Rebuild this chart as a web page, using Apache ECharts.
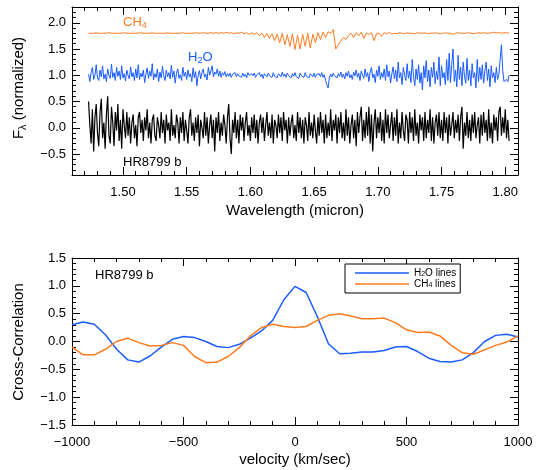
<!DOCTYPE html>
<html><head><meta charset="utf-8">
<script src="https://cdn.jsdelivr.net/npm/echarts@6/dist/echarts.min.js"></script>
<style>html,body{margin:0;padding:0;background:#fff}#c{width:544px;height:470px}</style>
</head><body><div id="c"></div>
<script>
// ---------- DATA ----------
// wavelength sampling grids (micron)
const wlStart = 1.473;
const wavelength = Array.from({length: 331}, (_, i) => +(wlStart + i * 0.001).toFixed(3));
const wavelengthCH4 = Array.from({length: 166}, (_, i) => +(wlStart + i * 0.002).toFixed(3));

// HR8799 b spectrum (normalized)
const fluxHR8799b = [
  0.50,0.05,-0.30,0.35,-0.45,0.20,0.45,-0.10,-0.35,0.30,
  0.55,-0.20,0.10,-0.40,0.25,0.60,-0.15,-0.30,0.40,0.10,
  -0.35,0.30,-0.05,0.45,-0.25,0.15,-0.40,0.35,0.05,-0.20,
  0.30,-0.15,0.20,-0.30,0.10,0.25,-0.20,0.05,-0.35,0.20,
  0.30,-0.10,0.15,-0.25,0.20,-0.05,0.35,-0.20,0.10,-0.30,
  0.15,0.25,-0.15,-0.25,0.20,0.05,-0.20,0.30,-0.10,0.15,
  -0.30,0.25,-0.05,0.10,-0.25,0.35,-0.15,0.05,-0.20,0.25,
  0.10,-0.30,0.20,-0.10,0.30,-0.25,0.15,-0.05,-0.30,0.20,
  0.35,-0.15,0.10,-0.25,0.20,-0.10,0.25,-0.35,0.15,0.00,
  -0.20,0.30,-0.15,0.20,-0.30,0.05,0.25,-0.20,0.15,-0.45,
  0.20,-0.10,0.30,-0.25,0.10,-0.15,0.25,0.05,-0.30,0.20,
  0.45,-0.20,-0.50,0.15,-0.10,0.30,-0.20,0.15,-0.30,0.25,
  -0.05,0.20,-0.25,0.10,0.30,-0.15,0.05,-0.25,0.20,-0.10,
  0.25,-0.20,0.15,-0.30,0.10,0.25,-0.10,0.20,-0.25,0.05,
  0.30,-0.15,0.10,-0.20,0.25,-0.30,0.15,0.05,-0.20,0.25,
  -0.10,0.20,-0.25,0.30,-0.05,0.15,-0.30,0.20,-0.15,0.10,
  0.25,-0.20,0.05,-0.25,0.30,-0.10,0.20,-0.20,0.15,-0.30,
  0.20,0.05,-0.25,0.30,-0.15,0.10,-0.20,0.25,-0.05,-0.30,
  0.20,-0.15,0.30,-0.10,0.15,-0.30,0.25,-0.20,0.10,-0.15,
  0.35,-0.25,0.15,-0.05,0.25,-0.30,0.20,-0.10,0.30,-0.20,
  0.10,-0.25,0.35,-0.15,0.20,-0.30,0.05,0.25,-0.20,0.15,
  -0.35,0.30,-0.10,0.20,0.40,-0.25,0.15,-0.20,0.30,-0.15,
  0.40,-0.30,0.25,-0.45,0.10,0.35,-0.20,0.20,-0.10,0.30,
  -0.25,0.15,-0.30,0.35,-0.10,0.25,-0.20,0.05,0.30,-0.25,
  0.20,-0.15,0.35,-0.30,0.10,-0.20,0.30,-0.05,-0.25,0.25,
  0.15,-0.30,0.30,-0.10,0.20,-0.25,0.35,-0.15,0.10,-0.30,
  0.25,-0.05,0.20,-0.25,0.30,-0.20,0.15,-0.10,0.35,-0.25,
  0.20,-0.30,0.10,0.25,-0.15,0.30,-0.20,0.15,-0.25,0.30,
  -0.10,0.20,-0.30,0.25,-0.15,0.05,0.30,-0.20,0.15,-0.10,
  0.25,-0.25,0.20,0.40,-0.40,0.10,-0.15,0.30,-0.20,0.15,
  -0.25,0.25,-0.10,0.30,-0.20,0.05,0.20,-0.30,0.25,-0.15,
  0.30,-0.10,0.15,-0.25,0.35,-0.20,0.10,-0.30,0.25,-0.05,
  0.20,-0.25,0.30,0.40,-0.15,0.20,-0.10,0.35,-0.20,0.15,
  -0.25
];
// H2O model spectrum
const fluxH2O = [
  1.02,0.88,1.05,1.15,0.92,1.00,1.20,0.95,0.90,1.10,
  0.97,1.18,0.93,1.02,0.88,1.12,1.00,0.94,1.21,0.96,
  1.05,0.90,1.15,0.98,1.08,0.92,1.18,0.95,1.03,0.89,
  1.10,1.00,0.93,1.16,0.97,1.05,0.90,1.12,0.95,1.20,
  0.92,1.04,0.97,1.10,0.86,1.02,1.14,0.94,1.08,0.98,
  1.22,0.91,1.03,0.96,1.12,0.88,1.06,0.95,1.17,0.99,
  0.90,1.10,0.97,1.05,0.93,1.19,0.96,1.08,0.85,1.04,
  1.12,0.94,1.01,0.90,1.15,0.98,1.06,0.92,1.10,0.97,
  1.03,0.88,1.14,0.95,1.07,0.80,1.00,1.09,0.93,1.05,
  1.12,0.96,1.02,0.91,1.15,1.00,1.08,1.18,0.97,1.06,
  1.02,1.12,0.98,1.08,0.96,1.05,1.00,1.07,0.97,1.03,
  0.98,1.04,0.96,1.02,1.00,1.05,0.97,1.03,0.99,1.01,
  0.96,1.04,0.98,1.02,0.95,1.05,1.00,0.97,1.03,0.99,
  1.04,0.96,1.01,0.98,1.05,0.97,1.02,0.94,1.03,1.00,
  0.97,1.04,0.99,1.02,0.96,1.05,0.98,1.01,0.95,1.03,
  1.00,0.97,1.06,0.98,1.02,0.96,1.04,0.99,1.01,0.95,
  1.03,0.98,1.05,0.97,1.00,0.94,1.04,0.99,1.02,0.96,
  1.05,0.98,1.01,0.95,1.03,1.00,0.97,1.04,0.96,1.02,
  0.99,1.03,0.97,1.05,0.96,1.01,0.90,0.82,0.76,0.95,
  1.02,0.97,1.04,0.99,1.01,0.95,1.03,0.98,1.06,0.96,
  1.02,0.93,1.05,0.98,1.08,0.95,1.01,0.92,1.06,0.99,
  1.10,0.96,1.04,0.90,1.08,1.00,0.94,1.12,0.97,1.05,
  0.88,1.06,1.15,0.95,1.02,0.86,1.10,0.98,1.18,0.92,
  1.05,0.96,1.12,0.90,1.20,0.97,1.08,0.85,1.03,1.16,
  0.93,1.10,0.88,1.25,0.95,1.05,0.82,1.15,1.00,0.90,
  1.22,0.94,1.08,0.86,1.30,0.98,0.80,1.12,0.92,1.20,
  0.85,1.05,0.72,1.18,0.95,1.28,0.88,1.10,0.78,1.15,
  0.96,1.25,0.84,1.08,0.92,1.35,0.80,1.18,0.95,1.05,
  0.82,1.30,0.90,1.42,0.86,1.20,1.50,0.88,1.10,0.78,
  1.38,0.92,1.15,0.80,1.25,0.98,0.85,1.32,0.90,1.10,
  0.80,1.22,0.95,1.05,0.76,1.30,0.88,1.15,0.92,1.20,
  0.85,1.08,1.25,0.90,1.12,0.78,1.18,0.95,1.05,0.86,
  1.15,0.92,1.02,1.30,1.58,1.10,0.88,0.85,0.92,0.88,
  1.00
];
// CH4 model spectrum
const fluxCH4 = [
  1.80,1.80,1.80,1.81,1.80,1.80,1.80,1.80,1.81,1.80,
  1.80,1.80,1.80,1.80,1.81,1.80,1.80,1.80,1.80,1.80,
  1.81,1.80,1.80,1.80,1.80,1.81,1.80,1.80,1.80,1.80,
  1.80,1.81,1.80,1.80,1.80,1.80,1.80,1.81,1.80,1.80,
  1.80,1.80,1.81,1.80,1.80,1.81,1.80,1.80,1.81,1.80,
  1.81,1.80,1.81,1.80,1.82,1.80,1.81,1.79,1.81,1.80,
  1.82,1.79,1.81,1.78,1.81,
  1.78,1.81,1.75,1.80,1.72,1.80,1.70,1.79,1.66,1.78,
  1.62,1.80,1.58,1.77,1.55,1.79,1.49,1.76,1.50,1.78,
  1.55,1.80,1.52,1.78,1.62,1.81,1.68,1.82,1.72,1.83,
  1.80,1.87,1.50,1.58,1.66,1.72,1.68,1.76,1.80,1.72,
  1.81,1.75,1.82,1.70,1.80,1.78,1.81,1.66,1.79,1.80,
  1.74,1.81,1.79,1.82,1.78,1.80,1.79,1.81,
  1.80,1.79,1.81,1.80,1.80,1.79,1.81,1.80,1.80,1.81,
  1.79,1.80,1.80,1.81,1.80,1.79,1.80,1.81,1.80,1.80,
  1.78,1.80,1.81,1.80,1.80,1.80,1.81,1.80,1.79,1.80,
  1.81,1.80,1.81,1.80,1.80,1.81,1.82,1.81,1.81,1.80,
  1.81,1.81,1.80
];

// velocity grid (km/s)
const velocity = [-1000,-950,-900,-850,-800,-750,-700,-650,-600,-550,-500,-450,-400,-350,-300,-250,-200,-150,-100,-50,
  0,50,100,150,200,250,300,350,400,450,500,550,600,650,700,750,800,850,900,950,1000];
const ccH2O = [0.30,0.35,0.31,0.12,-0.14,-0.33,-0.37,-0.26,-0.10,0.04,0.09,0.07,0.00,-0.09,-0.11,-0.05,0.06,0.19,0.38,0.75,
  0.99,0.88,0.45,-0.04,-0.22,-0.21,-0.19,-0.19,-0.16,-0.10,-0.09,-0.18,-0.30,-0.36,-0.37,-0.33,-0.20,0.00,0.11,0.13,0.08];
const ccCH4 = [-0.10,-0.24,-0.24,-0.14,0.00,0.06,-0.02,-0.08,-0.07,-0.02,-0.07,-0.27,-0.38,-0.37,-0.27,-0.11,0.10,0.25,0.31,0.27,
  0.25,0.27,0.38,0.47,0.50,0.46,0.41,0.41,0.42,0.34,0.21,0.16,0.17,0.10,-0.07,-0.20,-0.23,-0.15,-0.07,-0.01,0.10];

// tick labels
const topXTicks = [1.50,1.55,1.60,1.65,1.70,1.75,1.80];
const topYTicks = [-0.5,0.0,0.5,1.0,1.5,2.0];
const botXTicks = [-1000,-500,0,500,1000];
const botYTicks = [-1.5,-1.0,-0.5,0.0,0.5,1.0,1.5];

// ---------- CHART ----------
const FONT = 'Liberation Sans, Arial, sans-serif';
const BLUE = '#1a5cff', ORANGE = '#ff7a1f';

function minorList(min, max, step, majors) {
  const out = [];
  const n = Math.round((max - min) / step);
  for (let i = 0; i <= n; i++) {
    const v = Math.round((min + i * step) * 1000) / 1000;
    if (!majors.some(m => Math.abs(m - v) < step / 10)) out.push(v);
  }
  return out;
}
const minus = s => s.replace('-', '\u2212');

function axes(gi, min, max, majors, minors, sides, fmt, margin) {
  const list = [];
  sides.forEach((pos, k) => {
    [false, true].forEach(isMinor => {
      const showLabel = (k === 0 && !isMinor);
      list.push({
        type: 'value', gridIndex: gi, min: min, max: max, position: pos,
        axisLine: {show: !isMinor, onZero: false, lineStyle: {color: '#000', width: 1}},
        axisTick: {show: true, inside: true, length: isMinor ? 4 : 8,
          customValues: isMinor ? minors : majors, lineStyle: {color: '#000', width: 1}},
        axisLabel: showLabel ? {show: true, customValues: majors, formatter: fmt, color: '#000',
          fontSize: 13, fontFamily: FONT, margin: margin} : {show: false},
        splitLine: {show: false}
      });
    });
  });
  return list;
}

const xAxes = [].concat(
  axes(0, 1.46, 1.81, topXTicks, minorList(1.46, 1.81, 0.01, topXTicks), ['bottom', 'top'], v => v.toFixed(2), 11),
  axes(1, -1000, 1000, botXTicks, minorList(-1000, 1000, 100, botXTicks), ['bottom', 'top'], v => minus(String(v)), 11)
);
const yAxes = [].concat(
  axes(0, -0.9, 2.3, topYTicks, minorList(-0.9, 2.3, 0.1, topYTicks), ['left', 'right'], v => minus(v.toFixed(1)), 6),
  axes(1, -1.5, 1.5, botYTicks, minorList(-1.5, 1.5, 0.1, botYTicks), ['left', 'right'], v => minus(v.toFixed(1)), 6)
);

const pairs = (xs, ys) => xs.map((x, i) => [x, ys[i]]);

const subRich = (color, size) => ({
  t: {fill: color, fontSize: size, fontFamily: FONT, lineHeight: size + 4},
  s: {fill: color, fontSize: Math.round(size * 0.7), fontFamily: FONT, verticalAlign: 'bottom'}
});

const option = {
  animation: false,
  backgroundColor: '#fff',
  grid: [
    {left: 72, top: 7, width: 446, height: 168},
    {left: 72, top: 258, width: 446, height: 167}
  ],
  xAxis: xAxes,
  yAxis: yAxes,
  legend: {
    data: ['H2O lines', 'CH4 lines'],
    left: 345, top: 264, orient: 'vertical',
    icon: 'rect', itemWidth: 54, itemHeight: 1.5, itemGap: 1,
    padding: [4, 4, 4, 10],
    borderColor: '#000', borderWidth: 1, backgroundColor: '#fff',
    textStyle: {fontSize: 10, fontFamily: FONT, color: '#000', lineHeight: 10,
      rich: {t: {fontSize: 10, fontFamily: FONT, color: '#000', lineHeight: 10},
             s: {fontSize: 7, fontFamily: FONT, color: '#000', verticalAlign: 'bottom'}}},
    formatter: n => n === 'H2O lines' ? '{t|H}{s|2}{t|O lines}' : '{t|CH}{s|4}{t| lines}'
  },
  series: [
    {name: 'CH4', type: 'line', xAxisIndex: 0, yAxisIndex: 0, symbol: 'none', silent: true,
      data: pairs(wavelengthCH4, fluxCH4), lineStyle: {color: ORANGE, width: 1}, itemStyle: {color: ORANGE}},
    {name: 'H2O', type: 'line', xAxisIndex: 0, yAxisIndex: 0, symbol: 'none', silent: true,
      data: pairs(wavelength, fluxH2O), lineStyle: {color: BLUE, width: 1}, itemStyle: {color: BLUE}},
    {name: 'HR8799 b', type: 'line', xAxisIndex: 0, yAxisIndex: 0, symbol: 'none', silent: true,
      data: pairs(wavelength, fluxHR8799b), lineStyle: {color: '#000', width: 1.2}, itemStyle: {color: '#000'}},
    {name: 'H2O lines', type: 'line', xAxisIndex: 4, yAxisIndex: 4, symbol: 'none', silent: true,
      data: pairs(velocity, ccH2O), lineStyle: {color: BLUE, width: 1.5}, itemStyle: {color: BLUE}},
    {name: 'CH4 lines', type: 'line', xAxisIndex: 4, yAxisIndex: 4, symbol: 'none', silent: true,
      data: pairs(velocity, ccCH4), lineStyle: {color: ORANGE, width: 1.5}, itemStyle: {color: ORANGE}}
  ],
  graphic: [
    {type: 'text', x: 19, y: 88, rotation: Math.PI / 2,
      style: {text: '{t|F}{s|λ}{t| (normalized)}', rich: subRich('#000', 15), align: 'center', verticalAlign: 'middle'}},
    {type: 'text', x: 19, y: 342, rotation: Math.PI / 2,
      style: {text: 'Cross-Correlation', fill: '#000', fontSize: 15, fontFamily: FONT, align: 'center', verticalAlign: 'middle'}},
    {type: 'text', x: 295, y: 211,
      style: {text: 'Wavelength (micron)', fill: '#000', fontSize: 15, fontFamily: FONT, align: 'center', verticalAlign: 'middle'}},
    {type: 'text', x: 295, y: 460,
      style: {text: 'velocity (km/sec)', fill: '#000', fontSize: 15, fontFamily: FONT, align: 'center', verticalAlign: 'middle'}},
    {type: 'text', x: 123, y: 22,
      style: {text: '{t|CH}{s|4}', rich: subRich(ORANGE, 13), align: 'left', verticalAlign: 'middle'}},
    {type: 'text', x: 188, y: 57,
      style: {text: '{t|H}{s|2}{t|O}', rich: subRich(BLUE, 13), align: 'left', verticalAlign: 'middle'}},
    {type: 'text', x: 123, y: 162,
      style: {text: 'HR8799 b', fill: '#000', fontSize: 13, fontFamily: FONT, align: 'left', verticalAlign: 'middle'}},
    {type: 'text', x: 95, y: 275,
      style: {text: 'HR8799 b', fill: '#000', fontSize: 13, fontFamily: FONT, align: 'left', verticalAlign: 'middle'}}
  ]
};

const chart = echarts.init(document.getElementById('c'), null, {renderer: 'canvas'});
chart.setOption(option);
</script></body></html>
